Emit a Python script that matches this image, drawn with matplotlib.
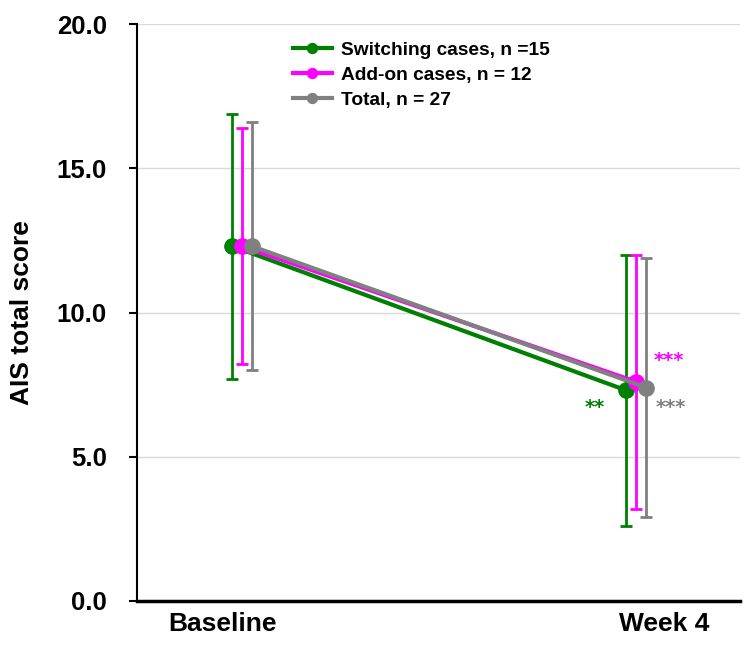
import matplotlib.pyplot as plt

plt.rcParams['font.family'] = ['Liberation Sans', 'DejaVu Sans']

# data
visits = ['Baseline', 'Week 4']
groups = ['Switching cases, n =15', 'Add-on cases, n = 12', 'Total, n = 27']
colors = ['#008000', '#ff00ff', '#808080']
offsets = [-0.025, 0.0, 0.025]

mean_sw = [12.3, 7.3]
lo_sw = [7.7, 2.6]
hi_sw = [16.9, 12.0]

mean_add = [12.3, 7.6]
lo_add = [8.2, 3.2]
hi_add = [16.4, 12.0]

mean_tot = [12.3, 7.4]
lo_tot = [8.0, 2.9]
hi_tot = [16.6, 11.9]

stars = ['**', '***', '***']

fig = plt.figure(figsize=(7.5, 6.46), dpi=100)
ax = fig.add_axes([0.183, 0.0697, 0.804, 0.893])

series = [(mean_sw, lo_sw, hi_sw), (mean_add, lo_add, hi_add), (mean_tot, lo_tot, hi_tot)]
for i, (m, lo, hi) in enumerate(series):
    xs = [k + offsets[i] for k in range(len(visits))]
    yerr = [[m[k] - lo[k] for k in range(len(m))], [hi[k] - m[k] for k in range(len(m))]]
    ax.errorbar(xs, m, yerr=yerr, fmt='none', ecolor=colors[i], elinewidth=2,
                capsize=4, capthick=2, zorder=2 + i)
    ax.plot(xs, m, color=colors[i], linewidth=3, marker='o', markersize=11,
            label=groups[i], zorder=5 + i)

# significance stars next to week 4 points
star_font = {'family': 'DejaVu Sans', 'size': 14, 'weight': 'bold'}
ax.text(1 + offsets[0] - 0.08, mean_sw[1] - 0.6, stars[0], color=colors[0],
        fontdict=star_font, ha='center', va='center')
ax.text(1 + offsets[1] + 0.083, mean_add[1] + 0.75, stars[1], color=colors[1],
        fontdict=star_font, ha='center', va='center')
ax.text(1 + offsets[2] + 0.062, mean_tot[1] - 0.7, stars[2], color=colors[2],
        fontdict=star_font, ha='center', va='center')

ax.set_xlim(-0.266, 1.264)
ax.set_ylim(0, 20)
ax.set_yticks([0, 5, 10, 15, 20])
ax.set_yticklabels(['0.0', '5.0', '10.0', '15.0', '20.0'], fontsize=18.5, fontweight='bold')
ax.set_xticks([-0.05, 1.07])
ax.set_xticklabels(visits, fontsize=19, fontweight='bold')
ax.tick_params(axis='x', length=0, pad=8)
ax.tick_params(axis='y', length=6, width=1.5, pad=16)
ax.set_ylabel('AIS total score', fontsize=19, fontweight='bold', labelpad=16)

ax.yaxis.grid(True, color='#d9d9d9', linewidth=1)
ax.set_axisbelow(True)
for s in ['top', 'right']:
    ax.spines[s].set_visible(False)
ax.spines['left'].set_linewidth(1.5)
ax.spines['bottom'].set_linewidth(2.5)

leg = ax.legend(loc='upper left', bbox_to_anchor=(0.23, 1.0), frameon=False,
                prop={'size': 13.8, 'weight': 'bold'}, handlelength=2.0,
                markerscale=0.65, labelspacing=0.4, handletextpad=0.5)

fig.savefig('out.png', dpi=100)
